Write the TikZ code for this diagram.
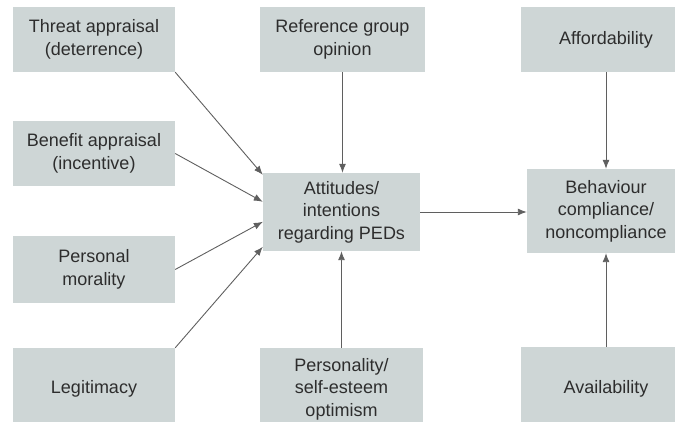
\documentclass[tikz,border=0pt]{standalone}
\usepackage{fontspec}
\setmainfont{Liberation Sans}
\usetikzlibrary{arrows.meta,calc}
\definecolor{boxgrey}{RGB}{206,214,214}
\definecolor{textgrey}{RGB}{45,45,45}
\definecolor{linegrey}{RGB}{95,95,95}

\begin{document}
\begin{tikzpicture}[x=1pt,y=-1pt,
block_factor/.style ={rectangle, draw=none, fill=boxgrey, text=textgrey, align=center, font=\fontsize{18}{22.5}\selectfont, inner sep=4pt},
block_left/.style ={block_factor, minimum width=162pt},
block_right/.style ={block_factor, minimum width=170pt},
line/.style ={draw=linegrey, line width=0.9pt, -{Latex[length=9pt,width=7pt]}, shorten >=0pt}]
  \clip (0,0) rectangle (675,422);
  % factors - left column
    \node [block_left, minimum height=65pt] (threat) at (94,39.5) {Threat appraisal\\(deterrence)};
    \node [block_left, minimum height=65pt] (benefit) at (94,153.5) {Benefit appraisal\\(incentive)};
    \node [block_left, minimum height=67pt] (morality) at (94,269.5) {Personal\\morality};
    \node [block_left, minimum height=82pt] (legitimacy) at (94,389) {Legitimacy};
  % middle column
    \node [block_factor, minimum width=165pt, minimum height=65pt] (reference) at (342.5,39.5) {Reference group\\opinion};
    \node [block_factor, minimum width=157pt, minimum height=78pt] (attitudes) at (341.5,212) {Attitudes/\\intentions\\regarding PEDs};
    \node [block_factor, minimum width=163pt, minimum height=82pt] (personality) at (341.5,389) {Personality/\\self-esteem\\optimism};
  % right column
    \node [block_right, minimum height=65pt] (afford) at (606,39.5) {Affordability};
    \node [block_factor, minimum width=158pt, minimum height=84pt] (behaviour) at (606,211) {Behaviour\\compliance/\\noncompliance};
    \node [block_right, minimum height=84pt] (avail) at (606,389) {Availability};
  % connecting nodes with paths
    \begin{scope}[every path/.style=line]
      \path (threat.south east) -- ($(attitudes.north west)+(0,2)$);
      \path (benefit.east)      -- ($(attitudes.north west)+(0,29)$);
      \path (morality.east)     -- ($(attitudes.north west)+(0,49)$);
      \path (legitimacy.north east) -- ($(attitudes.north west)+(0,74)$);
      \path (reference.south)   -- (reference.south |- attitudes.north);
      \path (personality.north) -- (personality.north |- attitudes.south);
      \path (attitudes.east)    -- (attitudes.east -| behaviour.west);
      \path (afford.south)      -- (behaviour.north);
      \path (avail.north)       -- (behaviour.south);
    \end{scope}
\end{tikzpicture}
\end{document}
